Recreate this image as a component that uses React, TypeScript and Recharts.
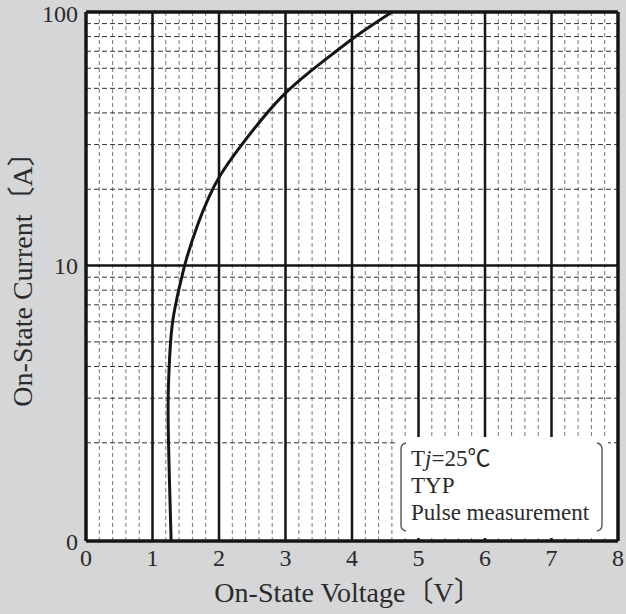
import React from "react";
import { CartesianGrid, Label, Line, LineChart, ReferenceLine, XAxis, YAxis } from "recharts";

// curve: on-state voltage (V) vs on-state current (A)
const voltage = [1.28, 1.24, 1.23, 1.25, 1.27, 1.3, 1.35, 1.4, 1.45, 1.49, 1.68, 1.85, 2.0, 2.27, 2.67, 2.99, 3.36, 3.73, 4.02, 4.3, 4.6];
const current = [0.82, 1.94, 2.94, 4.0, 5.0, 6.06, 7.07, 8.17, 9.18, 10.3, 14.7, 18.8, 22.5, 28.4, 38.7, 48.1, 58.1, 69, 79, 88.9, 100];

const xTicks = [0, 1, 2, 3, 4, 5, 6, 7, 8];
const xMajorGrid = [1, 2, 3, 4, 5, 6, 7];
const xMinorGrid = [
    0.2, 0.4, 0.6, 0.8, 1.2, 1.4, 1.6, 1.8, 2.2, 2.4, 2.6, 2.8, 3.2, 3.4, 3.6, 3.8,
    4.2, 4.4, 4.6, 4.8, 5.2, 5.4, 5.6, 5.8, 6.2, 6.4, 6.6, 6.8, 7.2, 7.4, 7.6, 7.8,
];
const yTicks = [0.82, 10, 100];
const yTickLabels = ["0", "10", "100"];
const yMajorGrid = [10];
const yMinorGrid = [2, 3, 4, 5, 6, 7, 8, 9, 20, 30, 40, 50, 60, 70, 80, 90];

const legendLines = ["=25℃", "TYP", "Pulse measurement"];

const data = voltage.map((v, i) => ({ v, i: current[i] }));

const FONT = "'Liberation Serif', 'Noto Sans CJK JP', serif";
const TEXT = "#2a2a2a";
const INK = "#151515";

function YTitle(props: any) {
    const { viewBox } = props;
    const cx = viewBox.x + 22;
    const cy = viewBox.y + viewBox.height / 2 - 4;
    return (
        <text x={cx} y={cy} transform={`rotate(-90 ${cx} ${cy})`} textAnchor="middle" dominantBaseline="central" fontFamily={FONT} fontSize={28} fill={TEXT}>
            On-State Current〔A〕
        </text>
    );
}

function XTitle(props: any) {
    const { viewBox } = props;
    const cx = viewBox.x + viewBox.width / 2 - 4;
    return (
        <text x={cx} y={viewBox.y + 61} textAnchor="middle" fontFamily={FONT} fontSize={28} fill={TEXT}>
            On-State Voltage〔V〕
        </text>
    );
}

function Conditions() {
    return (
        <svg width={213} height={101} style={{ position: "absolute", left: 395, top: 437 }}>
            <rect x={0} y={0} width={213} height={101} fill="#fff" />
            <path d="M 11 6 Q 6 7 6 12 L 6 88 Q 6 93 11 94" fill="none" stroke="#555" strokeWidth={1.4} />
            <path d="M 202 6 Q 207 7 207 12 L 207 88 Q 207 93 202 94" fill="none" stroke="#555" strokeWidth={1.4} />
            <g fontFamily={FONT} fontSize={23} fill={TEXT}>
                <text x={16} y={29}>
                    T<tspan fontStyle="italic">j</tspan>
                    {legendLines[0]}
                </text>
                <text x={16} y={56}>{legendLines[1]}</text>
                <text x={16} y={83}>{legendLines[2]}</text>
            </g>
        </svg>
    );
}

export default function App() {
    return (
        <div style={{ position: "absolute", left: 0, top: 0, width: 626, height: 614, background: "#d4d6d7" }}>
            <LineChart width={626} height={614} data={data} margin={{ top: 12, right: 8, bottom: 0, left: 0 }}>
                <CartesianGrid fill="#fff" stroke="none" />
                <XAxis
                    dataKey="v"
                    type="number"
                    domain={[0, 8]}
                    ticks={xTicks}
                    height={73}
                    tickLine={false}
                    axisLine={{ stroke: INK, strokeWidth: 3.5 }}
                    tick={{ fontFamily: FONT, fontSize: 24, fill: TEXT }}
                    label={<Label content={XTitle} />}
                />
                <YAxis
                    dataKey="i"
                    scale="log"
                    domain={[0.82, 100]}
                    allowDataOverflow
                    ticks={yTicks}
                    width={86}
                    tickLine={false}
                    axisLine={{ stroke: INK, strokeWidth: 3.5 }}
                    tick={{ fontFamily: FONT, fontSize: 24, fill: TEXT }}
                    tickFormatter={(value: number) => yTickLabels[yTicks.indexOf(value)]}
                    label={<Label content={YTitle} />}
                />
                {xMinorGrid.map(x => (
                    <ReferenceLine key={`xm${x}`} x={x} stroke="#777" strokeWidth={1} strokeDasharray="4 3" />
                ))}
                {yMinorGrid.map(y => (
                    <ReferenceLine key={`ym${y}`} y={y} stroke="#333" strokeWidth={1} strokeDasharray="5 3" />
                ))}
                {xMajorGrid.map(x => (
                    <ReferenceLine key={`xM${x}`} x={x} stroke={INK} strokeWidth={2.5} />
                ))}
                {yMajorGrid.map(y => (
                    <ReferenceLine key={`yM${y}`} y={y} stroke={INK} strokeWidth={2.5} />
                ))}
                <ReferenceLine x={8} stroke={INK} strokeWidth={3.5} />
                <ReferenceLine y={100} stroke={INK} strokeWidth={3.5} />
                <Line dataKey="i" type="basis" stroke={INK} strokeWidth={3} dot={false} isAnimationActive={false} />
            </LineChart>
            <Conditions />
        </div>
    );
}
